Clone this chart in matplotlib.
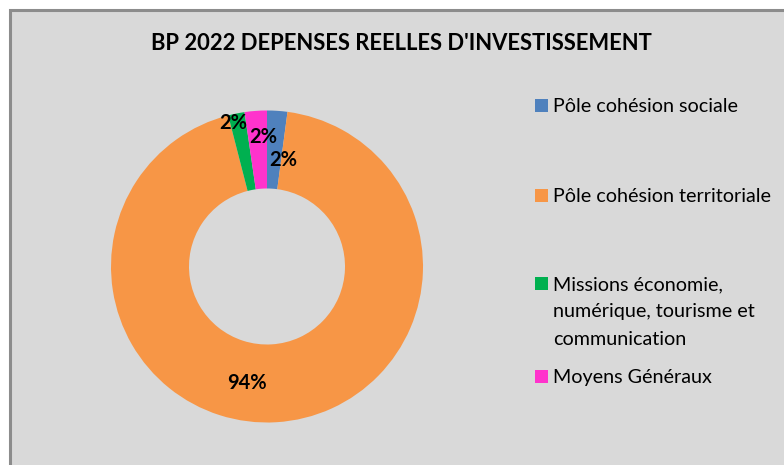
import numpy as np
import matplotlib
matplotlib.use('Agg')
import matplotlib.pyplot as plt
from matplotlib.patches import Rectangle

# data (shares of the 2022 investment budget, in %)
categories = ['Pôle cohésion sociale',
              'Pôle cohésion territoriale',
              'Missions économie,\nnumérique, tourisme et\ncommunication',
              'Moyens Généraux']
values = [2.1, 93.9, 1.7, 2.3]
colors = ['#4f81bd', '#f79646', '#00b050', '#ff33cc']
title = "BP 2022 DEPENSES REELLES D'INVESTISSEMENT"

plt.rcParams['font.family'] = ['Lato', 'DejaVu Sans']

W, H = 784, 465
fig = plt.figure(figsize=(W / 100, H / 100), dpi=100)
fig.patch.set_facecolor('white')

# grey chart area with border
fig.patches.append(Rectangle((9.5 / W, -0.01), 1.0, (H - 10.5) / H + 0.01,
                             transform=fig.transFigure, facecolor='#d9d9d9',
                             edgecolor='#8c8c8c', linewidth=2.2, zorder=-5))

fig.text(401 / W, 1 - 44 / H, title, ha='center', va='center',
         fontsize=15.8, fontweight='bold', color='#000000')

# donut
cx, cy, r = 267, 266.5, 156
ax = fig.add_axes([(cx - r) / W, (H - cy - r) / H, 2 * r / W, 2 * r / H])
ax.set_facecolor('none')
wedges, _ = ax.pie(values, colors=colors, startangle=90, counterclock=False,
                   radius=1, wedgeprops=dict(width=0.5, linewidth=0))
ax.set_xlim(-1, 1)
ax.set_ylim(-1, 1)
ax.set_aspect('equal')
ax.axis('off')

# percentage labels (radius, angle shift) tuned like the Excel layout
label_pos = [(0.69, -5), (0.76, -13), (0.945, 2), (0.83, -2.5)]
total = sum(values)
for w, v, (lr, dth) in zip(wedges, values, label_pos):
    th = np.deg2rad((w.theta1 + w.theta2) / 2 + dth)
    ax.text(lr * np.cos(th), lr * np.sin(th), '%d%%' % round(v / total * 100),
            ha='center', va='center', fontsize=14.5, fontweight='bold')

# legend, placed like the original (y of first text line)
leg_y = [105, 195, 283, 376]
for y, lab, c in zip(leg_y, categories, colors):
    fig.patches.append(Rectangle((535 / W, 1 - (y + 7) / H), 13 / W, 13 / H,
                                 transform=fig.transFigure, facecolor=c,
                                 edgecolor='none'))
    fig.text(553 / W, 1 - (y - 7) / H, lab, ha='left', va='top',
             fontsize=14.2, color='#000000', linespacing=1.75)

fig.savefig('out.png', dpi=100)
